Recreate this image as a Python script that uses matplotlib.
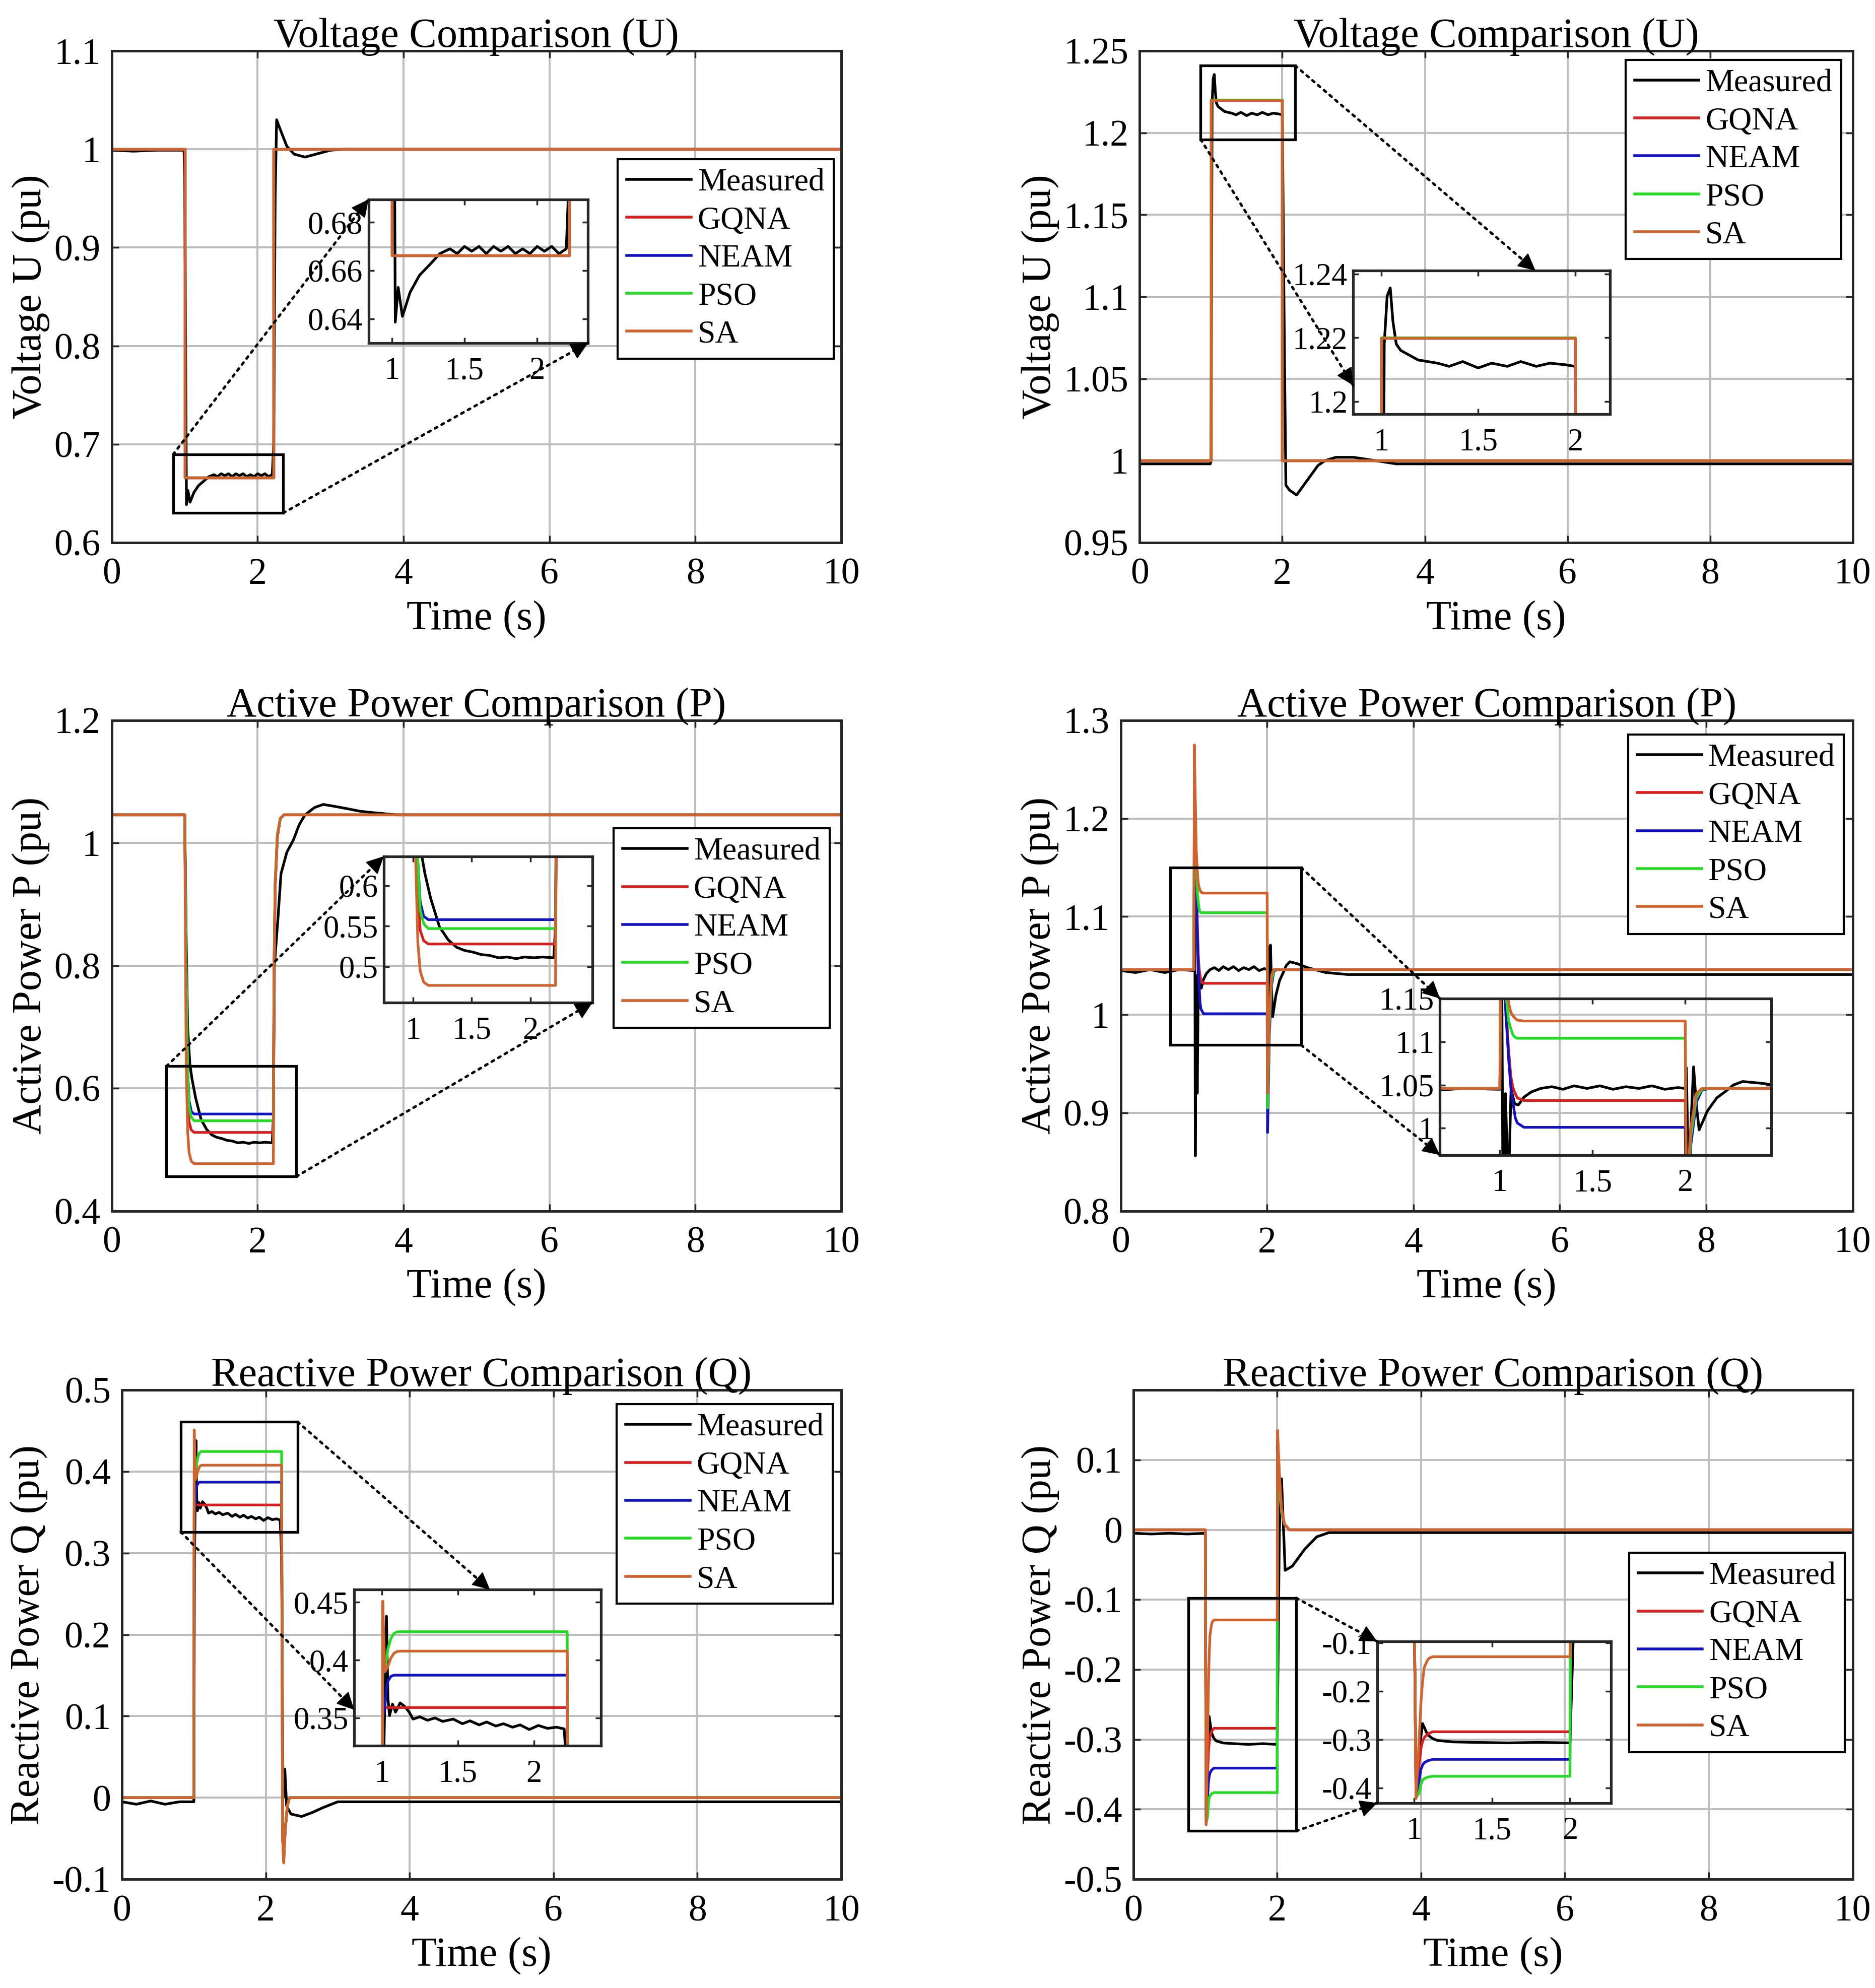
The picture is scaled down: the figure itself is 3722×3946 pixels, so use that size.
import numpy as np
import matplotlib.pyplot as plt
from matplotlib.patches import Rectangle, FancyArrowPatch
from matplotlib.ticker import FuncFormatter

plt.rcParams['font.family'] = ['Liberation Serif', 'DejaVu Serif']
plt.rcParams['axes.unicode_minus'] = False

names = ['Measured', 'GQNA', 'NEAM', 'PSO', 'SA']
colors = ['black', '#D81E1E', '#1212C4', '#22DD22', '#D2622E']

# ---------------- Voltage, left (U1) ----------------
u1_t_model = [0, 1.0, 1.0, 2.22, 2.22, 10]
u1_gqna = [1.0, 1.0, 0.6662, 0.6662, 1.0, 1.0]
u1_neam = [1.0, 1.0, 0.6662, 0.6662, 1.0, 1.0]
u1_pso = [1.0, 1.0, 0.6662, 0.6662, 1.0, 1.0]
u1_sa = [1.0, 1.0, 0.6662, 0.6662, 1.0, 1.0]
u1_t_meas = [0, 0.3, 0.6, 0.99, 1.0, 1.024, 1.044, 1.073, 1.126, 1.19, 1.27, 1.33,
             1.40, 1.45, 1.50, 1.55, 1.60, 1.65, 1.70, 1.75, 1.80, 1.85, 1.90, 1.95,
             2.00, 2.05, 2.10, 2.15, 2.20, 2.22, 2.24, 2.26, 2.30, 2.40, 2.50, 2.65,
             2.80, 3.00, 3.20, 10]
u1_meas = [0.999, 0.998, 0.999, 0.999, 0.97, 0.6386, 0.653, 0.641, 0.651, 0.658, 0.663, 0.667,
           0.669, 0.667, 0.670, 0.668, 0.670, 0.667, 0.670, 0.668, 0.670, 0.667, 0.669, 0.667,
           0.670, 0.668, 0.670, 0.667, 0.669, 0.70, 0.95, 1.03, 1.022, 1.003, 0.995, 0.992,
           0.995, 0.999, 1.0, 1.0]

# ---------------- Voltage, right (U2) ----------------
u2_t_model = [0, 1.0, 1.0, 2.0, 2.0, 10]
u2_gqna = [1.0, 1.0, 1.2198, 1.2198, 1.0, 1.0]
u2_neam = [1.0, 1.0, 1.2198, 1.2198, 1.0, 1.0]
u2_pso = [1.0, 1.0, 1.2201, 1.2201, 1.0, 1.0]
u2_sa = [1.0, 1.0, 1.2198, 1.2198, 1.0, 1.0]
u2_t_meas = [0, 0.99, 1.0, 1.015, 1.03, 1.046, 1.06, 1.077, 1.10, 1.13, 1.19, 1.29,
             1.35, 1.42, 1.50, 1.57, 1.65, 1.72, 1.80, 1.87, 1.95, 2.0, 2.03, 2.05,
             2.10, 2.20, 2.35, 2.50, 2.60, 2.75, 3.00, 3.30, 3.60, 10]
u2_meas = [0.998, 0.998, 1.0, 1.218, 1.233, 1.2356, 1.225, 1.218, 1.216, 1.215, 1.213, 1.212,
           1.211, 1.2125, 1.2105, 1.212, 1.211, 1.2125, 1.211, 1.212, 1.2115, 1.211, 1.065, 0.985,
           0.982, 0.979, 0.988, 0.997, 1.0, 1.002, 1.002, 1.0, 0.998, 0.998]

# ---------------- Active power, left (P1) ----------------
p1_t_model = [0, 1.0, 1.02, 1.04, 1.06, 1.09, 1.13, 2.215, 2.225, 2.24, 2.27, 2.31, 2.36, 10]
p1_gqna = [1.046, 1.046, 0.78, 0.60, 0.545, 0.532, 0.528, 0.528, 0.79, 0.93, 1.01, 1.04, 1.046, 1.046]
p1_neam = [1.046, 1.046, 0.80, 0.63, 0.58, 0.562, 0.558, 0.558, 0.80, 0.93, 1.01, 1.04, 1.046, 1.046]
p1_pso = [1.046, 1.046, 0.80, 0.63, 0.57, 0.553, 0.547, 0.547, 0.80, 0.94, 1.015, 1.04, 1.046, 1.046]
p1_sa = [1.046, 1.046, 0.64, 0.53, 0.495, 0.481, 0.477, 0.477, 0.78, 0.93, 1.01, 1.04, 1.046, 1.046]
p1_t_meas = [0, 1.0, 1.02, 1.04, 1.07, 1.10, 1.15, 1.225, 1.30, 1.37, 1.44, 1.51, 1.58, 1.65,
             1.73, 1.80, 1.88, 1.95, 2.03, 2.10, 2.20, 2.215, 2.23, 2.28, 2.32, 2.40, 2.49,
             2.57, 2.65, 2.78, 2.9, 3.05, 3.23, 3.4, 3.55, 3.9, 10]
p1_meas = [1.046, 1.046, 0.85, 0.70, 0.64, 0.615, 0.584, 0.549, 0.533, 0.524, 0.520, 0.518, 0.515, 0.514,
           0.511, 0.512, 0.510, 0.512, 0.511, 0.512, 0.511, 0.55, 0.80, 0.88, 0.95, 0.985, 1.005,
           1.03, 1.046, 1.058, 1.063, 1.060, 1.056, 1.052, 1.05, 1.046, 1.046]

# ---------------- Active power, right (P2) ----------------
p2_t_model = [0, 1.0, 1.005, 1.03, 1.047, 1.059, 1.07, 1.083, 1.094, 1.13, 2.0, 2.006, 2.03, 2.06, 2.09, 2.13, 10]
p2_gqna = [1.046, 1.046, 1.25, 1.15, 1.09, 1.06, 1.047, 1.04, 1.035, 1.032, 1.032, 0.92, 0.99, 1.035, 1.045, 1.046, 1.046]
p2_neam = [1.046, 1.046, 1.24, 1.14, 1.08, 1.047, 1.03, 1.012, 1.006, 1.001, 1.001, 0.88, 0.98, 1.03, 1.044, 1.046, 1.046]
p2_pso = [1.046, 1.046, 1.26, 1.16, 1.124, 1.115, 1.108, 1.105, 1.104, 1.104, 1.104, 0.905, 0.99, 1.035, 1.045, 1.046, 1.046]
p2_sa = [1.046, 1.046, 1.275, 1.17, 1.145, 1.134, 1.13, 1.127, 1.125, 1.124, 1.124, 0.92, 1.0, 1.04, 1.046, 1.046, 1.046]
p2_t_meas = [0, 0.2, 0.4, 0.6, 0.8, 1.0, 1.008, 1.018, 1.03, 1.045, 1.06, 1.08, 1.10, 1.13, 1.17,
             1.22, 1.28, 1.34, 1.40, 1.47, 1.54, 1.61, 1.68, 1.75, 1.82, 1.89, 1.96, 2.0, 2.006,
             2.015, 2.03, 2.045, 2.06, 2.075, 2.12, 2.17, 2.22, 2.26, 2.31, 2.41, 2.55, 2.8, 3.1, 10]
p2_meas = [1.045, 1.043, 1.046, 1.043, 1.046, 1.045, 1.26, 0.856, 1.04, 0.92, 1.045, 1.028, 1.027, 1.036, 1.042,
           1.046, 1.048, 1.045, 1.049, 1.046, 1.049, 1.045, 1.048, 1.046, 1.049, 1.045, 1.047, 1.046, 1.07,
           0.97, 1.0, 1.071, 1.027, 0.998, 1.02, 1.035, 1.043, 1.05, 1.054, 1.052, 1.048, 1.043, 1.041, 1.041]

# ---------------- Reactive power, left (Q1) ----------------
q1_t_model = [0, 1.0, 1.0055, 1.02, 1.03, 1.04, 1.06, 1.08, 1.10, 1.13, 2.22, 2.235, 2.25, 2.27, 2.3, 2.33, 10]
q1_gqna = [0, 0, 0.359, 0.359, 0.359, 0.359, 0.359, 0.359, 0.359, 0.359, 0.359, -0.05, -0.076, -0.04, -0.01, 0, 0]
q1_neam = [0, 0, 0.35, 0.36, 0.375, 0.382, 0.386, 0.387, 0.387, 0.387, 0.387, -0.05, -0.075, -0.04, -0.01, 0, 0]
q1_pso = [0, 0, 0.40, 0.39, 0.40, 0.41, 0.419, 0.423, 0.4245, 0.4246, 0.4246, -0.05, -0.078, -0.04, -0.01, 0, 0]
q1_sa = [0, 0, 0.451, 0.39, 0.392, 0.395, 0.402, 0.406, 0.4075, 0.4078, 0.4078, -0.05, -0.08, -0.04, -0.01, 0, 0]
q1_t_meas = [0, 0.2, 0.4, 0.6, 0.8, 1.0, 1.01, 1.03, 1.04, 1.05, 1.07, 1.09, 1.12, 1.15, 1.18, 1.205,
             1.25, 1.3, 1.35, 1.4, 1.47, 1.53, 1.58, 1.64, 1.69, 1.75, 1.8, 1.86, 1.91, 1.97, 2.03,
             2.09, 2.15, 2.2, 2.22, 2.24, 2.265, 2.29, 2.35, 2.5, 2.65, 2.8, 3.0, 10]
q1_meas = [-0.005, -0.008, -0.004, -0.008, -0.005, -0.005, 0.30, 0.438, 0.367, 0.352, 0.362, 0.355, 0.363, 0.360, 0.355, 0.349,
           0.351, 0.348, 0.350, 0.347, 0.349, 0.345, 0.3475, 0.344, 0.3465, 0.343, 0.345, 0.342, 0.344, 0.340, 0.3435,
           0.341, 0.342, 0.3405, 0.30, 0.0, 0.035, -0.01, -0.02, -0.023, -0.018, -0.012, -0.005, -0.005]

# ---------------- Reactive power, right (Q2) ----------------
q2_t_model = [0, 1.0, 1.012, 1.032, 1.043, 1.054, 1.065, 1.086, 1.097, 1.12, 2.0, 2.005, 2.03, 2.06, 2.1, 2.17, 10]
q2_gqna = [0, 0, -0.41, -0.349, -0.32, -0.304, -0.296, -0.289, -0.287, -0.284, -0.284, 0.13, 0.075, 0.03, 0.008, 0, 0]
q2_neam = [0, 0, -0.415, -0.384, -0.362, -0.353, -0.348, -0.344, -0.343, -0.341, -0.341, 0.12, 0.07, 0.028, 0.008, 0, 0]
q2_pso = [0, 0, -0.42, -0.411, -0.393, -0.384, -0.381, -0.378, -0.377, -0.376, -0.376, 0.11, 0.065, 0.025, 0.008, 0, 0]
q2_sa = [0, 0, -0.422, -0.30, -0.228, -0.18, -0.151, -0.136, -0.132, -0.129, -0.129, 0.142, 0.08, 0.03, 0.008, 0, 0]
q2_t_meas = [0, 0.25, 0.5, 0.75, 1.0, 1.012, 1.03, 1.054, 1.086, 1.118, 1.15, 1.25, 1.4, 1.6, 1.8, 2.0,
             2.03, 2.06, 2.11, 2.21, 2.38, 2.55, 2.72, 3.0, 10]
q2_meas = [-0.005, -0.006, -0.005, -0.006, -0.005, -0.40, -0.33, -0.267, -0.29, -0.298, -0.302, -0.305, -0.306, -0.307, -0.306, -0.307,
           0.0, 0.073, -0.058, -0.052, -0.028, -0.01, -0.004, -0.004, -0.004]

x_ticks = [0, 2, 4, 6, 8, 10]
inset_x_ticks = [1, 1.5, 2]

panels = [
    dict(title='Voltage Comparison (U)', ylabel='Voltage U (pu)',
         t_model=u1_t_model, models=[u1_gqna, u1_neam, u1_pso, u1_sa], t_meas=u1_t_meas, meas=u1_meas,
         ylim=(0.6, 1.1), yticks=[0.6, 0.7, 0.8, 0.9, 1.0, 1.1],
         zx=(0.84, 2.35), zy=(0.630, 0.6895), zyticks=[0.64, 0.66, 0.68],
         pos=[0.0596, 0.7271, 0.3889, 0.2473], ins=[0.352, 0.406, 0.301, 0.292],
         leg=(0.9895, 0.780), arrows=[('tl', (0, 1)), ('br', (1, 0))]),
    dict(title='Voltage Comparison (U)', ylabel='Voltage U (pu)',
         t_model=u2_t_model, models=[u2_gqna, u2_neam, u2_pso, u2_sa], t_meas=u2_t_meas, meas=u2_meas,
         ylim=(0.95, 1.25), yticks=[0.95, 1.0, 1.05, 1.1, 1.15, 1.2, 1.25],
         zx=(0.855, 2.18), zy=(1.196, 1.241), zyticks=[1.2, 1.22, 1.24],
         pos=[0.6077, 0.7271, 0.3801, 0.2473], ins=[0.2995, 0.261, 0.360, 0.292],
         leg=(0.984, 0.982), arrows=[('tr', (0.71, 1)), ('bl', (0, 0.2))]),
    dict(title='Active Power Comparison (P)', ylabel='Active Power P (pu)',
         t_model=p1_t_model, models=[p1_gqna, p1_neam, p1_pso, p1_sa], t_meas=p1_t_meas, meas=p1_meas,
         ylim=(0.4, 1.2), yticks=[0.4, 0.6, 0.8, 1.0, 1.2],
         zx=(0.75, 2.53), zy=(0.456, 0.636), zyticks=[0.5, 0.55, 0.6],
         pos=[0.0596, 0.3909, 0.3889, 0.2467], ins=[0.373, 0.425, 0.286, 0.298],
         leg=(0.984, 0.780), arrows=[('tl', (0, 1)), ('br', (1, 0))]),
    dict(title='Active Power Comparison (P)', ylabel='Active Power P (pu)',
         t_model=p2_t_model, models=[p2_gqna, p2_neam, p2_pso, p2_sa], t_meas=p2_t_meas, meas=p2_meas,
         ylim=(0.8, 1.3), yticks=[0.8, 0.9, 1.0, 1.1, 1.2, 1.3],
         zx=(0.676, 2.465), zy=(0.969, 1.15), zyticks=[1.0, 1.05, 1.1, 1.15],
         pos=[0.5976, 0.3909, 0.3902, 0.2467], ins=[0.436, 0.114, 0.453, 0.319],
         leg=(0.988, 0.9715), arrows=[('tr', (0, 1)), ('br', (0, 0))]),
    dict(title='Reactive Power Comparison (Q)', ylabel='Reactive Power Q (pu)',
         t_model=q1_t_model, models=[q1_gqna, q1_neam, q1_pso, q1_sa], t_meas=q1_t_meas, meas=q1_meas,
         ylim=(-0.1, 0.5), yticks=[-0.1, 0, 0.1, 0.2, 0.3, 0.4, 0.5],
         zx=(0.818, 2.442), zy=(0.326, 0.461), zyticks=[0.35, 0.4, 0.45],
         pos=[0.065, 0.0547, 0.3835, 0.2461], ins=[0.323, 0.273, 0.343, 0.319],
         leg=(0.988, 0.971), arrows=[('tr', (0.55, 1)), ('bl', (0, 0.23))]),
    dict(title='Reactive Power Comparison (Q)', ylabel='Reactive Power Q (pu)',
         t_model=q2_t_model, models=[q2_gqna, q2_neam, q2_pso, q2_sa], t_meas=q2_t_meas, meas=q2_meas,
         ylim=(-0.5, 0.2), yticks=[-0.5, -0.4, -0.3, -0.2, -0.1, 0, 0.1],
         zx=(0.763, 2.263), zy=(-0.431, -0.0976), zyticks=[-0.4, -0.3, -0.2, -0.1],
         pos=[0.6043, 0.0547, 0.3835, 0.2461], ins=[0.339, 0.156, 0.325, 0.330],
         leg=(0.989, 0.6675), arrows=[('tr', (0, 1)), ('br', (0, 0))]),
]

fmt = FuncFormatter(lambda v, p: f'{v:g}')
edge = '#262626'
lw = 3.8

fig = plt.figure(figsize=(37.23, 39.46), dpi=100)
to_fig = fig.transFigure.inverted()


def draw_lines(a, pn):
    a.plot(pn['t_meas'], pn['meas'], color=colors[0], lw=lw, label=names[0])
    for i, m in enumerate(pn['models']):
        a.plot(pn['t_model'], m, color=colors[i + 1], lw=lw, label=names[i + 1])


for pn in panels:
    ax = fig.add_axes(pn['pos'])
    draw_lines(ax, pn)
    ax.set_xlim(0, 10)
    ax.set_ylim(*pn['ylim'])
    ax.set_xticks(x_ticks)
    ax.set_yticks(pn['yticks'])
    ax.xaxis.set_major_formatter(fmt)
    ax.yaxis.set_major_formatter(fmt)
    ax.grid(True, color='#BDBDBD', lw=2.8)
    ax.set_axisbelow(True)
    ax.tick_params(direction='in', length=10, width=2.5, top=True, right=True,
                   labelsize=53, color=edge)
    ax.tick_params(axis='x', pad=22)
    ax.tick_params(axis='y', pad=16)
    for s in ax.spines.values():
        s.set_linewidth(3.6)
        s.set_color(edge)
    ax.set_title(pn['title'], fontsize=59, pad=6)
    ax.set_xlabel('Time (s)', fontsize=59, labelpad=12)
    ax.set_ylabel(pn['ylabel'], fontsize=59, labelpad=6)

    leg = ax.legend(loc='upper right', bbox_to_anchor=pn['leg'], fontsize=46,
                    fancybox=False, framealpha=1, edgecolor='black',
                    handlelength=2.0, handletextpad=0.2, labelspacing=0.26,
                    borderpad=0.28, borderaxespad=0)
    leg.get_frame().set_linewidth(3.0)
    for h in leg.get_lines():
        h.set_linewidth(4)

    # zoom box and inset (inset placed in figure coordinates)
    x0, x1 = pn['zx']
    y0, y1 = pn['zy']
    ax.add_patch(Rectangle((x0, y0), x1 - x0, y1 - y0, fill=False,
                           ec='black', lw=3.8, zorder=6))
    L, B, W, H = pn['pos']
    il, ib, iw, ih = pn['ins']
    axins = fig.add_axes([L + il * W, B + ib * H, iw * W, ih * H])
    axins.set_facecolor('none')
    draw_lines(axins, pn)
    axins.set_xlim(x0, x1)
    axins.set_ylim(y0, y1)
    axins.set_xticks(inset_x_ticks)
    axins.set_yticks(pn['zyticks'])
    axins.xaxis.set_major_formatter(fmt)
    axins.yaxis.set_major_formatter(fmt)
    axins.tick_params(direction='in', length=8, width=2.5, top=True, right=True,
                      labelsize=45, color=edge)
    axins.tick_params(axis='x', pad=20)
    axins.tick_params(axis='y', pad=8)
    for s in axins.spines.values():
        s.set_linewidth(3.8)
        s.set_color(edge)

    corners = {'tl': (x0, y1), 'tr': (x1, y1), 'bl': (x0, y0), 'br': (x1, y0)}
    for c, frac in pn['arrows']:
        pa = np.array(to_fig.transform(ax.transData.transform(corners[c])))
        pb = np.array(to_fig.transform(axins.transAxes.transform(frac)))
        # dotted shaft
        fig.add_artist(FancyArrowPatch(pa, pb, transform=fig.transFigure,
                                       arrowstyle='-', lw=3.6, ls=(0, (1, 2.0)),
                                       color='black', shrinkA=0, shrinkB=0, zorder=7))
        # solid head
        pc = pb - 0.02 * (pb - pa)
        fig.add_artist(FancyArrowPatch(pc, pb, transform=fig.transFigure,
                                       arrowstyle='-|>', mutation_scale=55, lw=1.5,
                                       color='black', shrinkA=0, shrinkB=0, zorder=7))

fig.savefig('out.png', dpi=100)
